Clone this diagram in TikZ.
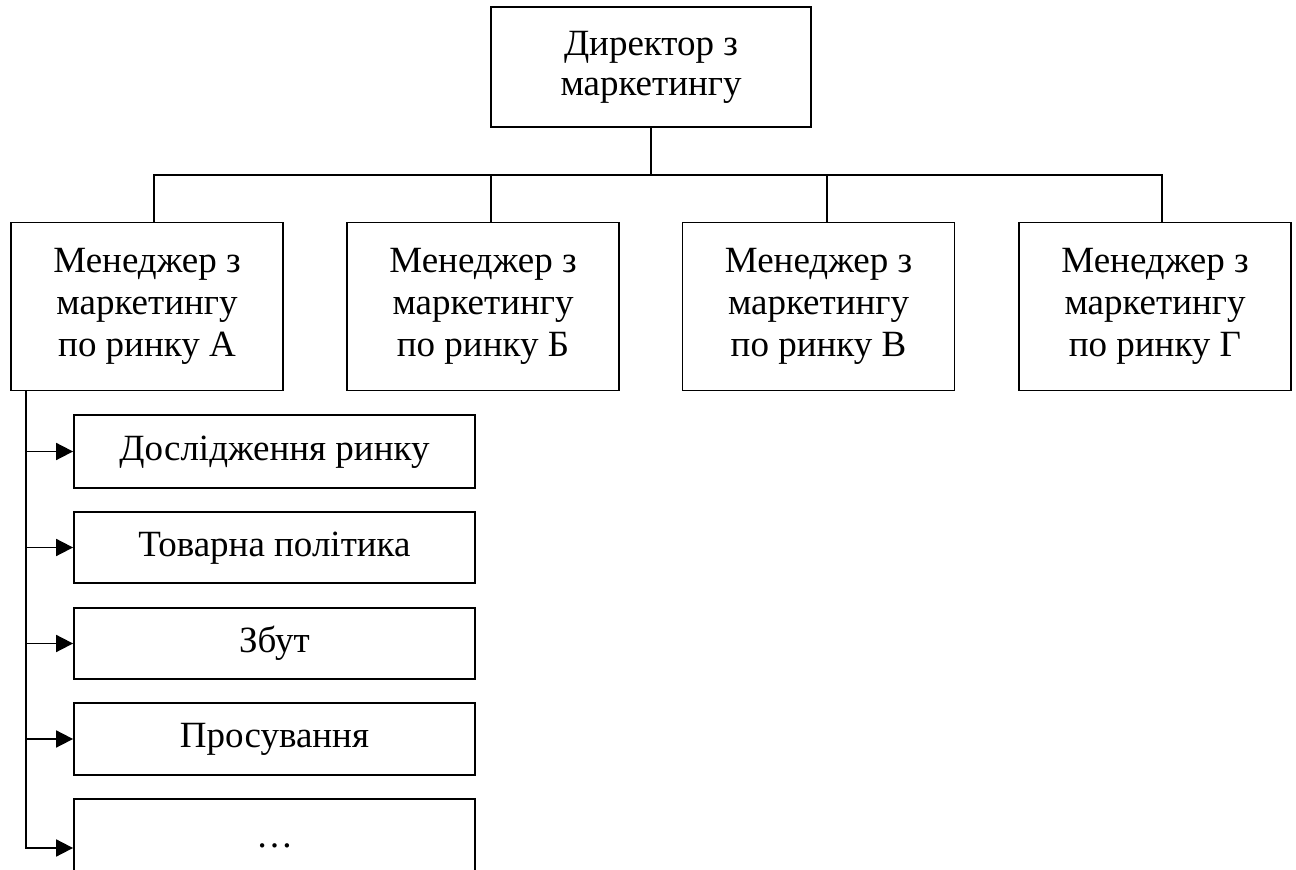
\documentclass[tikz,border=0pt]{standalone}
\usepackage{fontspec}
\setmainfont{Liberation Serif}
\usetikzlibrary{arrows.meta}
\begin{document}
\begin{tikzpicture}[x=0.5pt,y=-0.5pt,
  box/.style={draw,line width=0.9pt,align=center,inner sep=0pt,font=\fontsize{18.5}{21}\selectfont},
  mgr/.style={box,minimum width=136pt,minimum height=84pt},
  sub/.style={box,minimum width=200.5pt,text height=13pt,text depth=4pt},
  ln/.style={line width=0.9pt},
  arr/.style={line width=0.9pt,-{Triangle[length=8.5pt,width=8.5pt]}}]
\useasboundingbox (0,0) rectangle (1296,870);
\node[box,minimum width=160pt,minimum height=60pt,font=\fontsize{18.5}{20}\selectfont] (dir) at (651,67) {Директор з\\маркетингу};
\node[mgr] (m1) at (147,306.5) {Менеджер з\\маркетингу\\по ринку А};
\node[mgr] (m2) at (483,306.5) {Менеджер з\\маркетингу\\по ринку Б};
\node[mgr] (m3) at (818.5,306.5) {Менеджер з\\маркетингу\\по ринку В};
\node[mgr] (m4) at (1155,306.5) {Менеджер з\\маркетингу\\по ринку Г};
\coordinate (bus) at (651,175);
\coordinate (b1) at (154,175);
\coordinate (b2) at (491,175);
\coordinate (b3) at (827,175);
\coordinate (b4) at (1162,175);
\draw[ln] (dir.south) -- (bus);
\draw[ln] (b1 |- m1.north) -- (b1) -- (b4) -- (b4 |- m4.north);
\draw[ln] (b2) -- (b2 |- m2.north);
\draw[ln] (b3) -- (b3 |- m3.north);
\node[sub,minimum height=36.5pt] (s1) at (274.5,451.5) {Дослідження ринку};
\node[sub,minimum height=35.5pt] (s2) at (274.5,547.5) {Товарна політика};
\node[sub,minimum height=35.5pt] (s3) at (274.5,643.5) {Збут};
\node[sub,minimum height=36pt] (s4) at (274.5,739) {Просування};
\node[sub,minimum height=49pt] (s5) at (274.5,848) {\raisebox{5pt}{…}};
\coordinate (v) at (26,848);
\draw[arr] (m1.south -| v) |- (s5.west);
\draw[arr] (v |- s1.west) -- (s1.west);
\draw[arr] (v |- s2.west) -- (s2.west);
\draw[arr] (v |- s3.west) -- (s3.west);
\draw[arr] (v |- s4.west) -- (s4.west);
\end{tikzpicture}
\end{document}
